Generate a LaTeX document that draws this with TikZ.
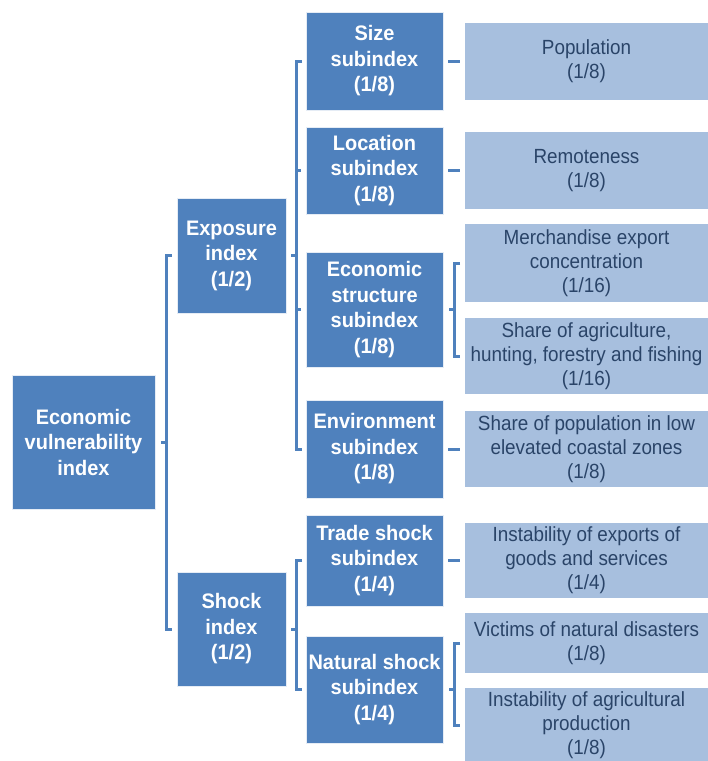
\documentclass[tikz,border=0pt]{standalone}
\usepackage{fontspec}
\setmainfont{Liberation Sans}
\newfontfamily\condfont[FakeStretch=0.92]{Liberation Sans}
\newfontfamily\condboldfont[FakeStretch=0.95]{Liberation Sans Bold}
\definecolor{darkbox}{HTML}{4F81BD}
\definecolor{lightbox}{HTML}{A7BFDE}
\definecolor{lighttext}{HTML}{2A4468}
\definecolor{linecol}{HTML}{4F81BD}
\tikzset{
  darknode/.style={rectangle, fill=darkbox, draw=white!85!darkbox, line width=0.6pt, inner sep=0pt, align=center,
    text=white, font=\condboldfont\fontsize{21}{25.5}\selectfont},
  lightnode/.style={rectangle, fill=lightbox, draw=none, inner sep=0pt, align=center,
    text=lighttext, font=\condfont\fontsize{20.5}{24}\selectfont, minimum width=243pt},
  bracketline/.style={draw=linecol, line width=3pt, line join=miter},
  dashline/.style={draw=linecol, line width=3pt}
}
\begin{document}
\begin{tikzpicture}[x=1pt,y=-1pt]
\useasboundingbox (0,0) rectangle (708,761);
% level 0 and 1
\node[darknode, minimum width=143pt, minimum height=134pt] (root) at (83.5,442) {Economic\\vulnerability\\index};
\node[darknode, minimum width=109pt, minimum height=115pt] (exp) at (231.5,255.5) {Exposure\\index\\(1/2)};
\node[darknode, minimum width=109pt, minimum height=114pt] (shock) at (231.5,629) {Shock\\index\\(1/2)};
% level 2
\node[darknode, minimum width=137pt, minimum height=98pt] (size) at (374.5,61) {Size\\subindex\\(1/8)};
\node[darknode, minimum width=137pt, minimum height=87pt] (loc) at (374.5,170.5) {Location\\subindex\\(1/8)};
\node[darknode, minimum width=137pt, minimum height=115pt] (econ) at (374.5,309.5) {Economic\\structure\\subindex\\(1/8)};
\node[darknode, minimum width=137pt, minimum height=98pt] (env) at (374.5,449) {Environment\\subindex\\(1/8)};
\node[darknode, minimum width=137pt, minimum height=91pt] (trade) at (374.5,560.5) {Trade shock\\subindex\\(1/4)};
\node[darknode, minimum width=137pt, minimum height=107pt] (nat) at (374.5,689.5) {Natural shock\\subindex\\(1/4)};
% level 3
\node[lightnode, minimum height=77pt] (pop) at (586.5,61.5) {Population\\(1/8)};
\node[lightnode, minimum height=77pt] (rem) at (586.5,170.5) {Remoteness\\(1/8)};
\node[lightnode, minimum height=78pt] (merch) at (586.5,263) {Merchandise export\\concentration\\(1/16)};
\node[lightnode, minimum height=76pt] (agri) at (586.5,356) {Share of agriculture,\\hunting, forestry and fishing\\(1/16)};
\node[lightnode, minimum height=76pt] (coast) at (586.5,449) {Share of population in low\\elevated coastal zones\\(1/8)};
\node[lightnode, minimum height=75pt] (expo) at (586.5,560.5) {Instability of exports of\\goods and services\\(1/4)};
\node[lightnode, minimum height=60pt] (vict) at (586.5,643) {Victims of natural disasters\\(1/8)};
\node[lightnode, minimum height=75pt] (instab) at (586.5,725.5) {Instability of agricultural\\production\\(1/8)};
% bracket x positions
\coordinate (b1) at (166,0);
\coordinate (b2) at (296,0);
\coordinate (b3) at (454,0);
% bracket: root -> exposure, shock
\draw[bracketline] (exp.west -| b1) ++(6,0) -- (exp.west -| b1) -- (shock.west -| b1) -- ++(6,0);
\draw[bracketline] (root.east -| b1) -- ++(-5,0);
% bracket: exposure -> four subindices
\draw[bracketline] (size.west -| b2) ++(6,0) -- (size.west -| b2) -- (env.west -| b2) -- ++(6,0);
\draw[bracketline] (exp.east -| b2) -- ++(-5,0);
\draw[bracketline] (loc.west -| b2) -- ++(5,0);
\draw[bracketline] (econ.west -| b2) -- ++(5,0);
% bracket: shock -> trade, natural
\draw[bracketline] (trade.west -| b2) ++(6,0) -- (trade.west -| b2) -- (nat.west -| b2) -- ++(6,0);
\draw[bracketline] (shock.east -| b2) -- ++(-5,0);
% bracket: economic structure -> merch, agri
\draw[bracketline] (merch.west -| b3) ++(6,0) -- (merch.west -| b3) -- (agri.west -| b3) -- ++(6,0);
\draw[bracketline] (econ.east -| b3) -- ++(-5,0);
% bracket: natural -> victims, instability
\draw[bracketline] (vict.west -| b3) ++(6,0) -- (vict.west -| b3) -- (instab.west -| b3) -- ++(6,0);
\draw[bracketline] (nat.east -| b3) -- ++(-5,0);
% short dashes
\draw[dashline] ([xshift=5pt]size.east) -- ([xshift=-5pt]size.east -| pop.west);
\draw[dashline] ([xshift=5pt]loc.east) -- ([xshift=-5pt]loc.east -| rem.west);
\draw[dashline] ([xshift=5pt]env.east) -- ([xshift=-5pt]env.east -| coast.west);
\draw[dashline] ([xshift=5pt]trade.east) -- ([xshift=-5pt]trade.east -| expo.west);
\end{tikzpicture}
\end{document}
